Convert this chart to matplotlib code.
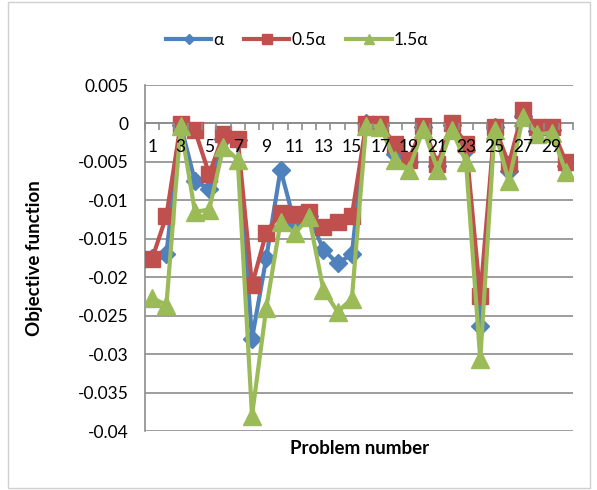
import matplotlib
matplotlib.use("Agg")
import matplotlib.pyplot as plt
from matplotlib.patches import Rectangle
import numpy as np

plt.rcParams['font.family'] = ['Lato', 'DejaVu Sans']

problems = list(range(1, 31))

alpha = [-0.0175, -0.0170, -0.0002, -0.0075, -0.0085, -0.0020, -0.0022, -0.0280, -0.0175, -0.0060,
         -0.0130, -0.0120, -0.0164, -0.0182, -0.0170, 0.0000, -0.0002, -0.0040, -0.0050, -0.0005,
         -0.0055, -0.0002, -0.0035, -0.0263, -0.0005, -0.0062, 0.0010, -0.0010, -0.0008, -0.0055]

half_alpha = [-0.0176, -0.0120, -0.0001, -0.0009, -0.0066, -0.0014, -0.0020, -0.0210, -0.0142, -0.0116,
              -0.0118, -0.0115, -0.0135, -0.0128, -0.0120, -0.0001, -0.0001, -0.0027, -0.0047, -0.0003,
              -0.0053, 0.0001, -0.0027, -0.0225, -0.0004, -0.0053, 0.0018, -0.0005, -0.0005, -0.0050]

one_half_alpha = [-0.0227, -0.0236, -0.0003, -0.0115, -0.0112, -0.0030, -0.0047, -0.0380, -0.0240, -0.0128,
                  -0.0143, -0.0122, -0.0216, -0.0245, -0.0228, -0.0003, -0.0004, -0.0047, -0.0060, -0.0007,
                  -0.0060, -0.0008, -0.0050, -0.0307, -0.0008, -0.0075, 0.0008, -0.0014, -0.0012, -0.0063]

series_labels = ['α', '0.5α', '1.5α']
y_ticks = [0.005, 0, -0.005, -0.01, -0.015, -0.02, -0.025, -0.03, -0.035, -0.04]

fig = plt.figure(figsize=(5.97, 4.90), dpi=100)
ax = fig.add_axes([145 / 597, 1 - 431 / 490, (573 - 145) / 597, (431 - 85) / 490])

ax.plot(problems, alpha, color='#4F81BD', lw=3, marker='D', ms=9, label=series_labels[0], zorder=3)
ax.plot(problems, half_alpha, color='#C0504D', lw=3, marker='s', ms=12, label=series_labels[1], zorder=4)
ax.plot(problems, one_half_alpha, color='#9BBB59', lw=3, marker='^', ms=13, label=series_labels[2], zorder=5)

ax.set_xlim(0.5, 30.5)
ax.set_ylim(-0.04, 0.005)
ax.set_yticks(y_ticks)
ax.set_yticklabels([('%g' % v) if v != 0 else '0' for v in y_ticks], fontsize=12.5)
ax.yaxis.grid(True, color='#8c8c8c', lw=1.2)
ax.set_axisbelow(True)
# category labels sit on top of the series
ax.xaxis.set_zorder(10)

# category axis crosses at zero
ax.spines['bottom'].set_position(('data', 0))
ax.spines['bottom'].set_color('#8c8c8c')
ax.spines['bottom'].set_linewidth(1.2)
ax.spines['bottom'].set_zorder(1)
ax.spines['left'].set_color('#8c8c8c')
ax.spines['left'].set_linewidth(1.2)
ax.spines['top'].set_visible(False)
ax.spines['right'].set_visible(False)

ax.set_xticks(problems[::2])
ax.set_xticklabels([str(p) for p in problems[::2]], fontsize=12.5)
ax.set_xticks(np.arange(0.5, 31, 1), minor=True)
ax.tick_params(axis='x', which='major', length=0, pad=11)
ax.tick_params(axis='x', which='minor', length=5, color='#8c8c8c', width=1.2, direction='out')
ax.tick_params(axis='y', length=0, pad=12)

fig.text(360 / 597, 1 - 448 / 490, 'Problem number', ha='center', va='center',
         fontsize=13.5, fontweight='bold')
fig.text(35 / 597, 1 - 258 / 490, 'Objective function', ha='center', va='center',
         rotation=90, fontsize=13.5, fontweight='bold')

fig.legend(loc='center', bbox_to_anchor=(297 / 597, 1 - 40 / 490), ncol=3, frameon=False,
           fontsize=12.5, handlelength=2.6, handletextpad=0.1, columnspacing=1.2, markerscale=0.6)

fig.patches.append(Rectangle((8 / 597, 2 / 490), 582 / 597, 486 / 490, transform=fig.transFigure,
                             fill=False, edgecolor='#d0d0d0', lw=1))

fig.savefig('out.png', dpi=100)
